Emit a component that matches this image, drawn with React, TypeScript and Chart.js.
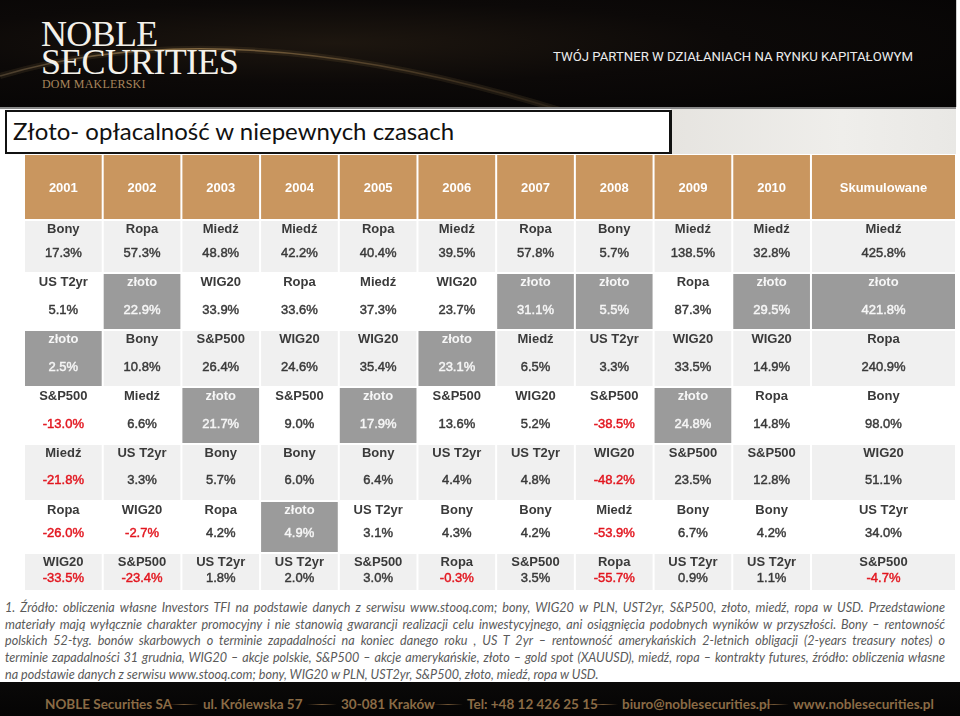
import React, { useEffect, useRef } from 'react';
import { Chart, registerables } from 'chart.js';

Chart.register(...registerables);

// ---------- DATA ----------
const columns = ['2001', '2002', '2003', '2004', '2005', '2006', '2007', '2008', '2009', '2010', 'Skumulowane'];

const rank1Assets = ['Bony', 'Ropa', 'Miedź', 'Miedź', 'Ropa', 'Miedź', 'Ropa', 'Bony', 'Miedź', 'Miedź', 'Miedź'];
const rank1Returns = [17.3, 57.3, 48.8, 42.2, 40.4, 39.5, 57.8, 5.7, 138.5, 32.8, 425.8];

const rank2Assets = ['US T2yr', 'złoto', 'WIG20', 'Ropa', 'Miedź', 'WIG20', 'złoto', 'złoto', 'Ropa', 'złoto', 'złoto'];
const rank2Returns = [5.1, 22.9, 33.9, 33.6, 37.3, 23.7, 31.1, 5.5, 87.3, 29.5, 421.8];

const rank3Assets = ['złoto', 'Bony', 'S&P500', 'WIG20', 'WIG20', 'złoto', 'Miedź', 'US T2yr', 'WIG20', 'WIG20', 'Ropa'];
const rank3Returns = [2.5, 10.8, 26.4, 24.6, 35.4, 23.1, 6.5, 3.3, 33.5, 14.9, 240.9];

const rank4Assets = ['S&P500', 'Miedź', 'złoto', 'S&P500', 'złoto', 'S&P500', 'WIG20', 'S&P500', 'złoto', 'Ropa', 'Bony'];
const rank4Returns = [-13.0, 6.6, 21.7, 9.0, 17.9, 13.6, 5.2, -38.5, 24.8, 14.8, 98.0];

const rank5Assets = ['Miedź', 'US T2yr', 'Bony', 'Bony', 'Bony', 'US T2yr', 'US T2yr', 'WIG20', 'S&P500', 'S&P500', 'WIG20'];
const rank5Returns = [-21.8, 3.3, 5.7, 6.0, 6.4, 4.4, 4.8, -48.2, 23.5, 12.8, 51.1];

const rank6Assets = ['Ropa', 'WIG20', 'Ropa', 'złoto', 'US T2yr', 'Bony', 'Bony', 'Miedź', 'Bony', 'Bony', 'US T2yr'];
const rank6Returns = [-26.0, -2.7, 4.2, 4.9, 3.1, 4.3, 4.2, -53.9, 6.7, 4.2, 34.0];

const rank7Assets = ['WIG20', 'S&P500', 'US T2yr', 'US T2yr', 'S&P500', 'Ropa', 'S&P500', 'Ropa', 'US T2yr', 'US T2yr', 'S&P500'];
const rank7Returns = [-33.5, -23.4, 1.8, 2.0, 3.0, -0.3, 3.5, -55.7, 0.9, 1.1, -4.7];

const highlightAsset = 'złoto';

const footnoteLines = [
  '1. Źródło: obliczenia własne Investors TFI na podstawie danych z serwisu www.stooq.com; bony, WIG20 w PLN, UST2yr, S&P500, złoto, miedź, ropa w USD. Przedstawione',
  'materiały mają wyłącznie charakter promocyjny i nie stanowią gwarancji realizacji celu inwestycyjnego, ani osiągnięcia podobnych wyników w przyszłości. Bony – rentowność',
  'polskich 52-tyg. bonów skarbowych o terminie zapadalności na koniec danego roku , US T 2yr – rentowność amerykańskich 2-letnich obligacji (2-years treasury notes) o',
  'terminie zapadalności 31 grudnia, WIG20 – akcje polskie, S&P500 – akcje amerykańskie, złoto – gold spot (XAUUSD), miedź, ropa – kontrakty futures, źródło: obliczenia własne',
  'na podstawie danych z serwisu www.stooq.com; bony, WIG20 w PLN, UST2yr, S&P500, złoto, miedź, ropa w USD.',
];

const footerItems = ['NOBLE Securities SA', 'ul. Królewska 57', '30-081 Kraków', 'Tel: +48 12 426 25 15', 'biuro@noblesecurities.pl', 'www.noblesecurities.pl'];

const rankAssets = [rank1Assets, rank2Assets, rank3Assets, rank4Assets, rank5Assets, rank6Assets, rank7Assets];
const rankReturns = [rank1Returns, rank2Returns, rank3Returns, rank4Returns, rank5Returns, rank6Returns, rank7Returns];

// ---------- LAYOUT / STYLE ----------
const TABLE_LEFT = 24;
const TABLE_TOP = 154;
const TABLE_W = 932;
const TABLE_H = 437;
const colWeights = [1, 1, 1, 1, 1, 1, 1, 1, 1, 1, 1.843];
const rowHeights = [66, 53, 57, 57, 57, 57, 52, 38];
const nameOffset = 9;
const valueOffsets = [33, 37, 37, 37, 36, 32, 25];
const rowBgs = ['#f0f0f0', '#ffffff', '#f0f0f0', '#ffffff', '#f0f0f0', '#ffffff', '#f0f0f0'];
const HEADER_BG = '#c9965f';
const HIGHLIGHT_BG = '#9b9b9b';
const TEXT = '#3a3a3a';
const NEG = '#e2161f';
const CELL_FONT = "'Liberation Sans', Arial, Helvetica, sans-serif";

const colStarts: number[] = [];
const colEnds: number[] = [];
{
  let acc = 0;
  colWeights.forEach((w) => {
    colStarts.push(acc);
    acc += w;
    colEnds.push(acc);
  });
}
const totalColUnits = colEnds[colEnds.length - 1];
const rowCenters: number[] = [];
{
  let acc = 0;
  rowHeights.forEach((h) => {
    rowCenters.push(acc + h / 2);
    acc += h;
  });
}
const totalRowUnits = rowHeights.reduce((a, b) => a + b, 0);

const cellTextPlugin = {
  id: 'cellText',
  afterDatasetsDraw(chart: any) {
    const ctx = chart.ctx;
    ctx.save();
    ctx.textAlign = 'center';
    ctx.textBaseline = 'middle';
    chart.data.datasets.forEach((_ds: any, di: number) => {
      const meta = chart.getDatasetMeta(di);
      meta.data.forEach((el: any, i: number) => {
        const p = el.getProps(['x', 'y', 'base', 'height'], true);
        const cx = (p.x + p.base) / 2;
        const top = p.y - p.height / 2;
        if (di === 0) {
          ctx.fillStyle = '#ffffff';
          ctx.font = `bold 13px ${CELL_FONT}`;
          ctx.fillText(columns[i], cx, p.y + 1);
          return;
        }
        const r = di - 1;
        const asset = rankAssets[r][i];
        const val = rankReturns[r][i];
        const hi = asset === highlightAsset;
        ctx.fillStyle = hi ? '#f6f6f6' : TEXT;
        ctx.font = `bold 13px ${CELL_FONT}`;
        ctx.fillText(asset, cx, top + nameOffset);
        const vc = hi ? '#f6f6f6' : val < 0 ? NEG : TEXT;
        ctx.fillStyle = vc;
        ctx.strokeStyle = vc;
        ctx.lineWidth = 0.45;
        ctx.font = `13px ${CELL_FONT}`;
        const txt = val.toFixed(1) + '%';
        ctx.fillText(txt, cx, top + valueOffsets[r]);
        ctx.strokeText(txt, cx, top + valueOffsets[r]);
      });
    });
    ctx.restore();
  },
};

function TableChart() {
  const ref = useRef<HTMLCanvasElement | null>(null);
  useEffect(() => {
    if (!ref.current) return;
    const headerData = columns.map((_c, i) => ({ x: [colStarts[i], colEnds[i]], y: rowCenters[0] }));
    const datasets: any[] = [
      {
        label: 'header',
        data: headerData,
        backgroundColor: HEADER_BG,
        barThickness: rowHeights[0],
      },
    ];
    rankAssets.forEach((assets, r) => {
      datasets.push({
        label: 'rank ' + (r + 1),
        data: assets.map((_a, i) => ({ x: [colStarts[i], colEnds[i]], y: rowCenters[r + 1] })),
        backgroundColor: assets.map((a) => (a === highlightAsset ? HIGHLIGHT_BG : rowBgs[r])),
        barThickness: rowHeights[r + 1],
      });
    });
    datasets.forEach((d) => {
      d.borderColor = '#ffffff';
      d.borderWidth = 1;
      d.borderSkipped = false;
      d.inflateAmount = 0;
      d.grouped = false;
    });
    const chart = new Chart(ref.current, {
      type: 'bar',
      data: { datasets },
      options: {
        indexAxis: 'y',
        animation: false,
        responsive: false,
        maintainAspectRatio: false,
        events: [],
        layout: { padding: 0 },
        plugins: { legend: { display: false }, tooltip: { enabled: false } },
        scales: {
          x: { type: 'linear', min: 0, max: totalColUnits, display: false, offset: false, grid: { display: false } },
          y: { type: 'linear', min: 0, max: totalRowUnits, reverse: true, display: false, offset: false, grid: { display: false } },
        },
      } as any,
      plugins: [cellTextPlugin],
    });
    return () => chart.destroy();
  }, []);
  return (
    <canvas
      ref={ref}
      width={TABLE_W}
      height={TABLE_H}
      style={{ position: 'absolute', left: TABLE_LEFT, top: TABLE_TOP, width: TABLE_W, height: TABLE_H }}
    />
  );
}

const footerLefts = [45, 203, 341, 467, 622, 793];

export default function App() {
  return (
    <div
      style={{
        position: 'absolute',
        left: 0,
        top: 0,
        width: 960,
        height: 716,
        overflow: 'hidden',
        background: '#ffffff',
        fontFamily: CELL_FONT,
      }}
    >
      {/* Banner */}
      <div
        style={{
          position: 'absolute',
          left: 0,
          top: 0,
          width: 956,
          height: 107,
          background: 'radial-gradient(ellipse at 35% 40%, #1d160f 0%, #0c0908 45%, #050404 100%)',
          borderRight: '1px solid #cfcfcf',
        }}
      >
        <svg width={956} height={107} style={{ position: 'absolute', left: 0, top: 0 }}>
          <defs>
            <linearGradient id="arc" x1="0" y1="0" x2="1" y2="0">
              <stop offset="0" stopColor="#6b5a45" stopOpacity="0.5" />
              <stop offset="0.3" stopColor="#b8935c" stopOpacity="0.7" />
              <stop offset="0.6" stopColor="#8d6f48" stopOpacity="0.5" />
              <stop offset="1" stopColor="#5a4630" stopOpacity="0.2" />
            </linearGradient>
          </defs>
          <path d="M 0 76 Q 230 8 560 110" stroke="url(#arc)" strokeWidth={1.6} fill="none" />
          <path d="M 0 76 Q 230 8 560 110" stroke="#b08a55" strokeOpacity={0.12} strokeWidth={6} fill="none" />
        </svg>
        <div
          style={{
            position: 'absolute',
            left: 41,
            top: 20,
            color: '#f4f1ea',
            fontFamily: "'Liberation Serif', 'DejaVu Serif', serif",
            fontSize: 36,
            lineHeight: '28px',
            letterSpacing: -0.7,
          }}
        >
          NOBLE
          <br />
          SECURITIES
        </div>
        <div
          style={{
            position: 'absolute',
            left: 42,
            top: 77,
            color: '#a8855c',
            fontFamily: "'Liberation Serif', 'DejaVu Serif', serif",
            fontSize: 12,
            letterSpacing: 0.2,
          }}
        >
          DOM MAKLERSKI
        </div>
        <div
          style={{
            position: 'absolute',
            left: 553,
            top: 49,
            color: '#ececec',
            fontFamily: "Roboto, 'Liberation Sans', sans-serif",
            fontSize: 13.2,
            whiteSpace: 'nowrap',
          }}
        >
          TWÓJ PARTNER W DZIAŁANIACH NA RYNKU KAPITAŁOWYM
        </div>
      </div>
      <div style={{ position: 'absolute', left: 0, top: 107, width: 956, height: 2, background: '#8a8a8a' }} />

      {/* Title strip */}
      <div
        style={{
          position: 'absolute',
          left: 671,
          top: 109,
          width: 285,
          height: 45,
          background: 'linear-gradient(90deg, #e6e4e0 0%, #efeeeb 60%, #e9e8e5 100%)',
        }}
      />
      <div
        style={{
          position: 'absolute',
          left: 5,
          top: 110,
          width: 662,
          height: 40,
          border: '2px solid #111',
          borderRightWidth: 3,
          background: '#ffffff',
        }}
      >
        <div
          style={{
            position: 'absolute',
            left: 6,
            top: 4,
            fontFamily: "Lato, 'Open Sans', sans-serif",
            fontSize: 24,
            color: '#111',
            whiteSpace: 'nowrap',
          }}
        >
          Złoto- opłacalność w niepewnych czasach
        </div>
      </div>

      <TableChart />

      {/* Footnote */}
      <div
        style={{
          position: 'absolute',
          left: 5,
          top: 600,
          width: 940,
          fontFamily: "Lato, 'Open Sans', sans-serif",
          fontStyle: 'italic',
          fontSize: 12.6,
          lineHeight: '16.7px',
          color: '#5a5a5a',
        }}
      >
        {footnoteLines.map((l, i) => (
          <div
            key={i}
            style={{
              whiteSpace: 'nowrap',
              textAlign: i < footnoteLines.length - 1 ? 'justify' : 'left',
              textAlignLast: i < footnoteLines.length - 1 ? 'justify' : 'left',
            }}
          >
            {l}
          </div>
        ))}
      </div>

      {/* Footer */}
      <div
        style={{
          position: 'absolute',
          left: 0,
          top: 682,
          width: 960,
          height: 34,
          background: 'linear-gradient(180deg, #0a0908 0%, #050404 100%)',
        }}
      >
        {footerItems.map((t, i) => (
          <div
            key={i}
            style={{
              position: 'absolute',
              left: footerLefts[i],
              top: 14,
              fontFamily: "Lato, 'Open Sans', sans-serif",
              fontWeight: 700,
              fontSize: 13.5,
              color: '#8a6b45',
              whiteSpace: 'nowrap',
              lineHeight: '16px',
            }}
          >
            {t}
          </div>
        ))}
        {footerLefts.slice(1).map((l, i) => (
          <div
            key={'ln' + i}
            style={{
              position: 'absolute',
              left: l - 34,
              top: 22,
              width: 30,
              height: 1,
              background: 'linear-gradient(90deg, rgba(140,105,65,0) 0%, rgba(140,105,65,0.8) 50%, rgba(140,105,65,0) 100%)',
            }}
          />
        ))}
      </div>
    </div>
  );
}
